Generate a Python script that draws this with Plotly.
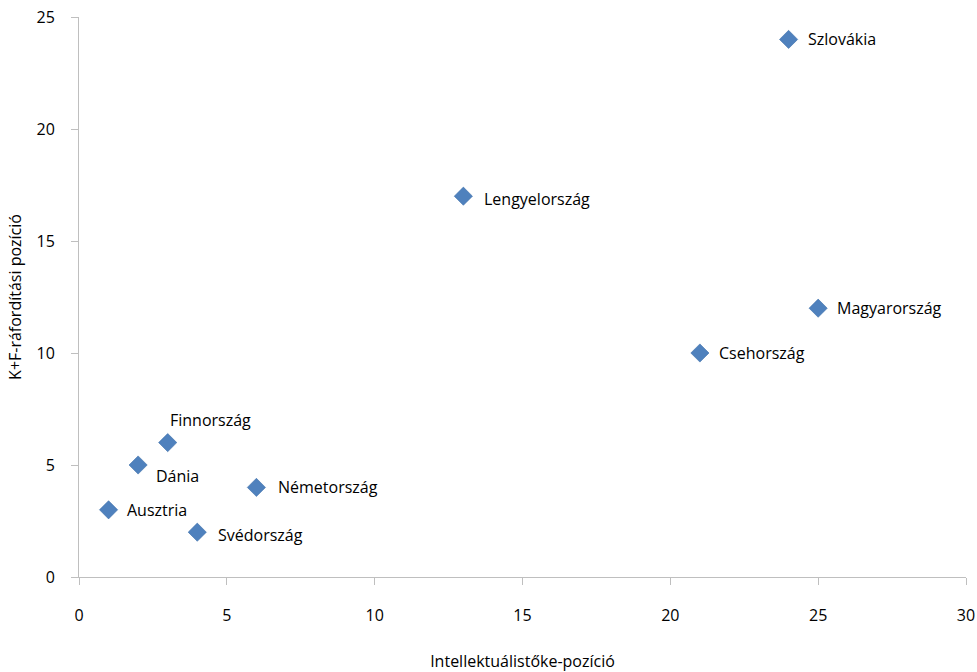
import plotly.graph_objects as go

# Country rankings: intellectual-capital position vs. R&D expenditure position
countries = ["Szlovákia", "Lengyelország", "Magyarország", "Csehország",
             "Finnország", "Dánia", "Németország", "Ausztria", "Svédország"]
ic_position = [24, 13, 25, 21, 3, 2, 6, 1, 4]
rd_position = [24, 17, 12, 10, 6, 5, 4, 3, 2]

x_ticks = [0, 5, 10, 15, 20, 25, 30]
y_ticks = [0, 5, 10, 15, 20, 25]

# Label placement (pixel offsets from each marker centre)
label_dx = [17, 19, 17, 17, 0, 16, 20, 16, 19]
label_dy = [0, -3, 0, 0, 23, -11, 0, 0, -3]

FONT = "Open Sans, Noto Sans, sans-serif"

fig = go.Figure()
fig.add_trace(go.Scatter(
    x=ic_position, y=rd_position, mode="markers",
    marker=dict(symbol="diamond", size=14, color="#4F81BD",
                line=dict(color="#3C6EAA", width=0.6)),
    hoverinfo="text", text=countries, showlegend=False,
))

for name, xv, yv, dx, dy in zip(countries, ic_position, rd_position, label_dx, label_dy):
    fig.add_annotation(x=xv, y=yv, text=name, showarrow=False,
                       xanchor="left", yanchor="middle", xshift=dx, yshift=dy,
                       font=dict(family=FONT, size=16, color="#000000"))

axis_common = dict(showgrid=False, zeroline=False, showline=True,
                   linecolor="#BFBFBF", linewidth=1, ticks="outside",
                   tickcolor="#BFBFBF", ticklen=7, tickwidth=1,
                   automargin=False,
                   tickfont=dict(family=FONT, size=16, color="#000000"))

fig.update_xaxes(range=[0, 30], tickvals=x_ticks, ticklabelstandoff=17,
                 title=dict(text="Intellektuálistőke-pozíció", standoff=31,
                            font=dict(family=FONT, size=16, color="#000000")),
                 **axis_common)
fig.update_yaxes(range=[0, 25], tickvals=y_ticks, ticklabelstandoff=13,
                 title=dict(text="K+F-ráfordítási pozíció", standoff=10,
                            font=dict(family=FONT, size=16, color="#000000")),
                 **axis_common)

fig.update_layout(width=977, height=672,
                  margin=dict(l=79, r=11, t=17, b=95),
                  paper_bgcolor="white", plot_bgcolor="white")

fig.write_html("out.html")
